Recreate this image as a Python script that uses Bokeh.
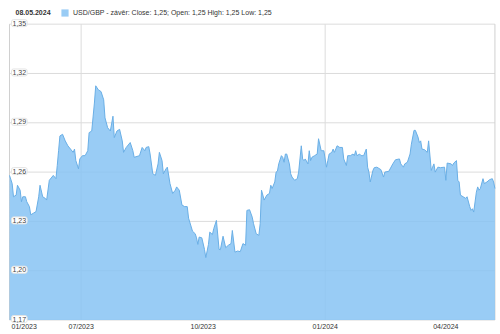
import pandas as pd
from bokeh.plotting import figure
from bokeh.models import Range1d, Label, Legend, LegendItem
from bokeh.embed import file_html
from bokeh.resources import INLINE

# ---- data (USD/GBP close) ----
dates = [
    "2023-05-08", "2023-05-10", "2023-05-11", "2023-05-13", "2023-05-14", "2023-05-16", "2023-05-17", "2023-05-18",
    "2023-05-20", "2023-05-21", "2023-05-23", "2023-05-24", "2023-05-26", "2023-05-28", "2023-05-30", "2023-05-31",
    "2023-06-02", "2023-06-04", "2023-06-05", "2023-06-07", "2023-06-09", "2023-06-10", "2023-06-12", "2023-06-13",
    "2023-06-14", "2023-06-15", "2023-06-17", "2023-06-19", "2023-06-21", "2023-06-23", "2023-06-25", "2023-06-26",
    "2023-06-27", "2023-06-29", "2023-06-30", "2023-07-02", "2023-07-04", "2023-07-06", "2023-07-07", "2023-07-09",
    "2023-07-11", "2023-07-12", "2023-07-14", "2023-07-16", "2023-07-18", "2023-07-19", "2023-07-21", "2023-07-23",
    "2023-07-25", "2023-07-26", "2023-07-28", "2023-07-30", "2023-08-01", "2023-08-02", "2023-08-04", "2023-08-07",
    "2023-08-09", "2023-08-10", "2023-08-14", "2023-08-16", "2023-08-18", "2023-08-19", "2023-08-21", "2023-08-22",
    "2023-08-24", "2023-08-26", "2023-08-28", "2023-08-29", "2023-08-31", "2023-09-01", "2023-09-03", "2023-09-04",
    "2023-09-06", "2023-09-08", "2023-09-10", "2023-09-11", "2023-09-13", "2023-09-15", "2023-09-17", "2023-09-19",
    "2023-09-20", "2023-09-23", "2023-09-25", "2023-09-26", "2023-09-27", "2023-09-28", "2023-09-30", "2023-10-02",
    "2023-10-03", "2023-10-05", "2023-10-06", "2023-10-08", "2023-10-09", "2023-10-11", "2023-10-13", "2023-10-14",
    "2023-10-16", "2023-10-18", "2023-10-20", "2023-10-22", "2023-10-23", "2023-10-25", "2023-10-27", "2023-10-29",
    "2023-10-31", "2023-11-02", "2023-11-03", "2023-11-05", "2023-11-07", "2023-11-08", "2023-11-10", "2023-11-12",
    "2023-11-13", "2023-11-14", "2023-11-16", "2023-11-18", "2023-11-20", "2023-11-21", "2023-11-22", "2023-11-24",
    "2023-11-25", "2023-11-26", "2023-11-27", "2023-11-29", "2023-11-30", "2023-12-01", "2023-12-02", "2023-12-03",
    "2023-12-05", "2023-12-06", "2023-12-07", "2023-12-09", "2023-12-11", "2023-12-12", "2023-12-14", "2023-12-15",
    "2023-12-16", "2023-12-17", "2023-12-19", "2023-12-20", "2023-12-21", "2023-12-22", "2023-12-24", "2023-12-26",
    "2023-12-27", "2023-12-29", "2023-12-31", "2024-01-02", "2024-01-03", "2024-01-04", "2024-01-06", "2024-01-07",
    "2024-01-08", "2024-01-10", "2024-01-12", "2024-01-14", "2024-01-15", "2024-01-17", "2024-01-18", "2024-01-20",
    "2024-01-22", "2024-01-23", "2024-01-24", "2024-01-25", "2024-01-27", "2024-01-28", "2024-01-30", "2024-02-01",
    "2024-02-02", "2024-02-03", "2024-02-04", "2024-02-06", "2024-02-07", "2024-02-09", "2024-02-12", "2024-02-14",
    "2024-02-15", "2024-02-18", "2024-02-21", "2024-02-23", "2024-02-26", "2024-02-27", "2024-02-29", "2024-03-01",
    "2024-03-03", "2024-03-05", "2024-03-06", "2024-03-08", "2024-03-09", "2024-03-11", "2024-03-12", "2024-03-13",
    "2024-03-14", "2024-03-16", "2024-03-18", "2024-03-19", "2024-03-21", "2024-03-22", "2024-03-23", "2024-03-24",
    "2024-03-26", "2024-03-28", "2024-03-31", "2024-04-01", "2024-04-02", "2024-04-05", "2024-04-06", "2024-04-07",
    "2024-04-09", "2024-04-10", "2024-04-11", "2024-04-12", "2024-04-14", "2024-04-16", "2024-04-17", "2024-04-19",
    "2024-04-20", "2024-04-21", "2024-04-22", "2024-04-24", "2024-04-25", "2024-04-26", "2024-04-27", "2024-04-29",
    "2024-04-30", "2024-05-02", "2024-05-04", "2024-05-06", "2024-05-07", "2024-05-08",
]
close = [
    1.258, 1.253, 1.245, 1.246, 1.252, 1.249, 1.242, 1.245,
    1.245, 1.242, 1.239, 1.234, 1.235, 1.236, 1.245, 1.252,
    1.245, 1.244, 1.243, 1.255, 1.257, 1.258, 1.256, 1.264,
    1.273, 1.282, 1.283, 1.279, 1.276, 1.274, 1.272, 1.274,
    1.267, 1.262, 1.268, 1.270, 1.270, 1.273, 1.284, 1.285,
    1.302, 1.3125, 1.310, 1.309, 1.304, 1.293, 1.287, 1.285,
    1.294, 1.281, 1.285, 1.286, 1.279, 1.272, 1.275, 1.278,
    1.273, 1.269, 1.270, 1.275, 1.273, 1.275, 1.2755, 1.271,
    1.259, 1.258, 1.265, 1.272, 1.267, 1.259, 1.262, 1.263,
    1.253, 1.247, 1.249, 1.251, 1.249, 1.240, 1.239, 1.239,
    1.232, 1.224, 1.2225, 1.220, 1.216, 1.2205, 1.220, 1.213,
    1.208, 1.216, 1.2235, 1.222, 1.2256, 1.2306, 1.213, 1.2128,
    1.221, 1.214, 1.2155, 1.2165, 1.2245, 1.2113, 1.212, 1.2116,
    1.2165, 1.2155, 1.2367, 1.2371, 1.2326, 1.2286, 1.2225, 1.2215,
    1.2286, 1.249, 1.243, 1.246, 1.247, 1.252, 1.250, 1.254,
    1.260, 1.2606, 1.265, 1.270, 1.269, 1.266, 1.271, 1.271,
    1.265, 1.259, 1.257, 1.255, 1.256, 1.260, 1.276, 1.268,
    1.267, 1.268, 1.265, 1.273, 1.267, 1.269, 1.270, 1.271,
    1.2803, 1.273, 1.273, 1.263, 1.267, 1.271, 1.272, 1.274,
    1.272, 1.276, 1.275, 1.275, 1.268, 1.264, 1.270, 1.270,
    1.271, 1.270, 1.273, 1.270, 1.271, 1.270, 1.270, 1.274,
    1.263, 1.260, 1.254, 1.261, 1.2627, 1.263, 1.2615, 1.257,
    1.260, 1.2605, 1.265, 1.2675, 1.268, 1.265, 1.263, 1.265,
    1.266, 1.271, 1.277, 1.2854, 1.2854, 1.2813, 1.278, 1.279,
    1.274, 1.2736, 1.272, 1.279, 1.261, 1.263, 1.265, 1.260,
    1.263, 1.2627, 1.263, 1.255, 1.2655, 1.265, 1.264, 1.2655,
    1.267, 1.255, 1.254, 1.246, 1.245, 1.244, 1.245, 1.239,
    1.2367, 1.2377, 1.2357, 1.2478, 1.251, 1.249, 1.250, 1.256,
    1.253, 1.254, 1.2554, 1.256, 1.254, 1.250,
]
y_ticks = [1.17, 1.20, 1.23, 1.26, 1.29, 1.32, 1.35]
y_tick_labels = ["1,17", "1,20", "1,23", "1,26", "1,29", "1,32", "1,35"]
x_ticks = ["2023-07-01", "2023-10-01", "2024-01-01", "2024-04-01"]
x_tick_labels = ["07/2023", "10/2023", "01/2024", "04/2024"]
x_grid = ["2023-07-01", "2024-01-01"]
first_x_label = "01/2023"
header_date = "08.05.2024"
series_label = "USD/GBP - závěr: Close: 1,25; Open: 1,25 High: 1,25 Low: 1,25"

x = pd.to_datetime(dates)
start, end = x[0], x[-1]
ymin, ymax = y_ticks[0], y_ticks[-1]

FONT = "Liberation Sans"
GRID = "#dcdcdc"
TXT = "#333333"

# frame = whole canvas so that header and outer labels are not clipped
p = figure(width=500, height=334, x_axis_type="datetime", output_backend="svg",
           toolbar_location=None,
           x_range=Range1d(start - pd.Timedelta(days=6.8), end + pd.Timedelta(days=4.2)),
           y_range=Range1d(ymin - 0.0088, ymax + 0.0144),
           min_border=0, min_border_left=0, min_border_right=0,
           min_border_top=0, min_border_bottom=0)
p.axis.visible = False
p.grid.visible = False
p.outline_line_color = None
p.background_fill_color = "white"
p.border_fill_color = "white"

# guides: horizontal grid, half-year vertical grid, side borders
p.segment(x0=[start] * len(y_ticks), x1=[end] * len(y_ticks), y0=y_ticks, y1=y_ticks,
          line_color=GRID, line_width=1)
gx = pd.to_datetime(x_grid)
p.segment(x0=gx, x1=gx, y0=[ymin] * len(gx), y1=[ymax] * len(gx), line_color=GRID, line_width=1)
p.segment(x0=[start, end], x1=[start, end], y0=[ymin, ymin], y1=[ymax, ymax],
          line_color="#d0d0d0", line_width=1)

area = p.varea(x=x, y1=ymin, y2=close, fill_color="#87C3F3", fill_alpha=0.85)
p.line(x=x, y=close, line_color="#6AAFE6", line_width=1)

# y tick labels inside the plot
for v, t in zip(y_ticks, y_tick_labels):
    p.add_layout(Label(x=start, y=v, text=t, x_offset=2, y_offset=1, text_align="left",
                       text_baseline="middle", text_font=FONT, text_font_size="7px",
                       text_color="#444444", background_fill_color="white",
                       border_line_color="#e4e4e4", padding=1, border_radius=2))

# x tick labels under the plot
for d, t in zip(pd.to_datetime(x_ticks), x_tick_labels):
    p.add_layout(Label(x=d, y=ymin, text=t, y_offset=-3, text_align="center",
                       text_baseline="top", text_font=FONT, text_font_size="7px",
                       text_color=TXT))
p.add_layout(Label(x=start, y=ymin, text=first_x_label, x_offset=2, y_offset=-3,
                   text_align="left", text_baseline="top", text_font=FONT,
                   text_font_size="7px", text_color=TXT))

# header
p.add_layout(Label(x=start, y=ymax, text=header_date, x_offset=6, y_offset=12,
                   text_align="left", text_baseline="middle", text_font=FONT,
                   text_font_size="7px", text_font_style="bold", text_color=TXT))

legend = Legend(items=[LegendItem(label=series_label, renderers=[area])],
                location=(60, 317), orientation="horizontal",
                glyph_width=9, glyph_height=9, label_height=9, label_standoff=4,
                padding=0, margin=0, spacing=0,
                label_text_font=FONT, label_text_font_size="7px", label_text_color=TXT,
                background_fill_alpha=0, border_line_color=None)
p.add_layout(legend)

open("out.html", "w").write(file_html(p, INLINE))
